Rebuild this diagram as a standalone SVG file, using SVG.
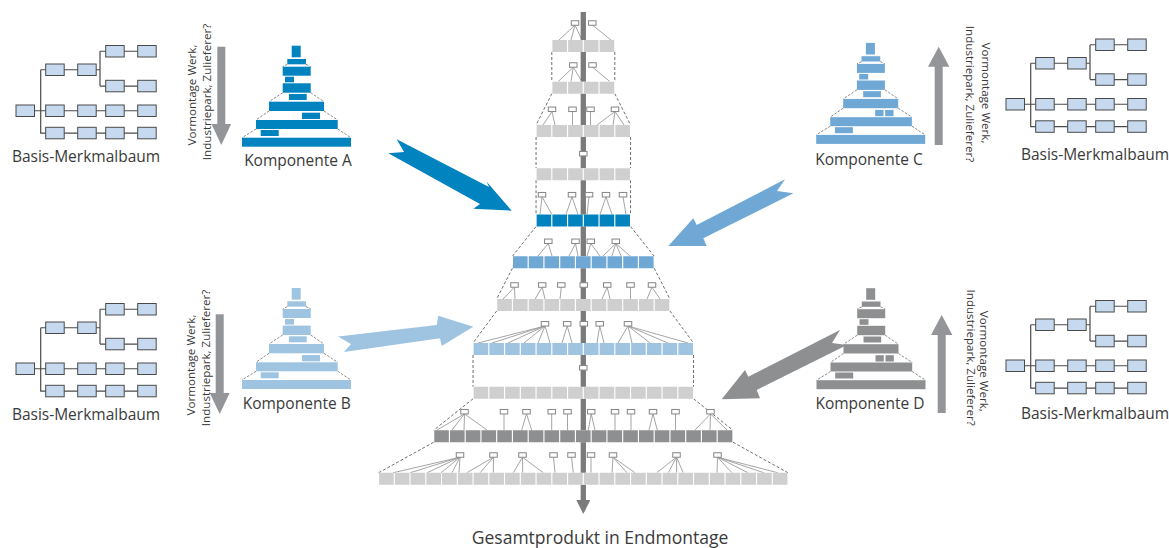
<svg xmlns="http://www.w3.org/2000/svg" width="1169" height="548" viewBox="0 0 1169 548">
<style>
text{font-family:"Open Sans","Noto Sans",sans-serif;fill:#3a3a3a}
.lbl{font-size:15.5px}
.ttl{font-size:17.5px}
.rot{font-size:11.6px}
.tb{fill:#c6d9ee;stroke:#4a4a4a;stroke-width:1}
.tl{fill:none;stroke:#4a4a4a;stroke-width:1.2}
.pd{fill:none;stroke:#7a7a7a;stroke-width:0.9;stroke-dasharray:2.5 1.5}
.sd{fill:none;stroke:#6e6e6e;stroke-width:1;stroke-dasharray:3 2}
.cn{fill:none;stroke:#9b9b9b;stroke-width:0.9}
.nd{fill:#fff;stroke:#858585;stroke-width:1}
.row{fill:none;stroke-width:12;stroke-dasharray:14.6 1.15}
.bg{fill:#fff}
.lg{stroke:#cfcfd0}
.deep{stroke:#0083bf}
.mid{stroke:#6fa8d4}
.lite{stroke:#9fc4e2}
.dg{stroke:#8e8f91}
.side{fill:#939598}
</style>
<defs>
<g id="tree">
<path class="tl" d="M18.5,5.75 H121.7 M24.7,-35.25 V28.05 H121.7 M24.7,-35.25 H84 M84,-53.75 V-18.95 M84,-53.75 H121.7 M84,-18.95 H121.7"/>
<rect class="tb" x="0" y="0" width="18.5" height="11.5"/>
<rect class="tb" x="29.7" y="-41" width="18.5" height="11.5"/>
<rect class="tb" x="61.7" y="-41" width="18.5" height="11.5"/>
<rect class="tb" x="89.7" y="-59.5" width="18.5" height="11.5"/>
<rect class="tb" x="121.7" y="-59.5" width="18.5" height="11.5"/>
<rect class="tb" x="89.7" y="-24.7" width="18.5" height="11.5"/>
<rect class="tb" x="121.7" y="-24.7" width="18.5" height="11.5"/>
<rect class="tb" x="29.7" y="0" width="18.5" height="11.5"/>
<rect class="tb" x="61.7" y="0" width="18.5" height="11.5"/>
<rect class="tb" x="89.7" y="0" width="18.5" height="11.5"/>
<rect class="tb" x="121.7" y="0" width="18.5" height="11.5"/>
<rect class="tb" x="29.7" y="22.3" width="18.5" height="11.5"/>
<rect class="tb" x="61.7" y="22.3" width="18.5" height="11.5"/>
<rect class="tb" x="89.7" y="22.3" width="18.5" height="11.5"/>
<rect class="tb" x="121.7" y="22.3" width="18.5" height="11.5"/>
</g>
<g id="pyr">
<path class="pd" d="M287.3,64.3 L282.7,66.7 M306,64.3 L310.7,66.7 M282.7,92.7 L269,101.7 M310.7,92.7 L324,101.7 M269,111 L256,120 M324,111 L337.7,120 M256,129 L242,137.7 M337.7,129 L351,137.7"/>
<rect x="291.7" y="45.7" width="9" height="11.6"/>
<rect x="287.3" y="59" width="18.7" height="5.3"/>
<rect x="282.7" y="66.7" width="28" height="9"/>
<rect x="285" y="76.7" width="9" height="5.6"/>
<rect x="282.7" y="83.3" width="28" height="9.4"/>
<rect x="289" y="94" width="17.7" height="6"/>
<rect x="269" y="101.7" width="55" height="9.3"/>
<rect x="256" y="120" width="81.7" height="9"/>
<rect x="260.7" y="130" width="18" height="6"/>
<rect x="242" y="137.7" width="109" height="9"/>
</g>
</defs>

<g id="baum-oben-links" transform="translate(16,105)"><use href="#tree"/></g>
<g id="baum-oben-rechts" transform="translate(1006,98.5)"><use href="#tree"/></g>
<g id="baum-unten-links" transform="translate(16,363)"><use href="#tree"/></g>
<g id="baum-unten-rechts" transform="translate(1006,360)"><use href="#tree"/></g>
<g id="baum-labels">
<text class="lbl" x="86" y="162" text-anchor="middle">Basis-Merkmalbaum</text>
<text class="lbl" x="1095" y="160" text-anchor="middle">Basis-Merkmalbaum</text>
<text class="lbl" x="86" y="420" text-anchor="middle">Basis-Merkmalbaum</text>
<text class="lbl" x="1095" y="419" text-anchor="middle">Basis-Merkmalbaum</text>
</g>

<g id="pfeil-oben-links">
<rect class="side" x="217.3" y="46.7" width="8" height="78"/>
<polygon class="side" points="211.5,124 231.1,124 221.3,145"/>
<text class="rot" transform="translate(195.5,95) rotate(-90)" text-anchor="middle">Vormontage Werk,</text>
<text class="rot" transform="translate(210.5,92) rotate(-90)" text-anchor="middle">Industriepark, Zulieferer?</text>
</g>
<g id="pfeil-unten-links">
<rect class="side" x="215.7" y="314.3" width="8" height="79"/>
<polygon class="side" points="209.7,393 229.7,393 219.7,414"/>
<text class="rot" transform="translate(195,365) rotate(-90)" text-anchor="middle">Vormontage Werk,</text>
<text class="rot" transform="translate(209.5,358) rotate(-90)" text-anchor="middle">Industriepark, Zulieferer?</text>
</g>
<g id="pfeil-oben-rechts">
<rect class="side" x="934.7" y="66" width="8" height="79"/>
<polygon class="side" points="928,66.7 949.4,66.7 938.7,46.7"/>
<text class="rot" transform="translate(981.7,93) rotate(90)" text-anchor="middle">Vormontage Werk,</text>
<text class="rot" transform="translate(966,94) rotate(90)" text-anchor="middle">Industriepark, Zulieferer?</text>
</g>
<g id="pfeil-unten-rechts">
<rect class="side" x="937.7" y="334" width="8" height="79"/>
<polygon class="side" points="931,335 952.4,335 941.7,315"/>
<text class="rot" transform="translate(980,361.3) rotate(90)" text-anchor="middle">Vormontage Werk,</text>
<text class="rot" transform="translate(966.5,357.7) rotate(90)" text-anchor="middle">Industriepark, Zulieferer?</text>
</g>

<g id="komponente-a">
<g fill="#0083bf"><use href="#pyr"/><rect x="302" y="112.7" width="18" height="6.3"/></g>
<text class="lbl" x="298" y="166" text-anchor="middle">Komponente A</text>
</g>
<g id="komponente-b">
<g fill="#9fc4e2" transform="translate(0,242.3)"><use href="#pyr"/><rect x="302" y="112.7" width="18" height="6.3"/></g>
<text class="lbl" x="296.7" y="409" text-anchor="middle">Komponente B</text>
</g>
<g id="komponente-c">
<g fill="#6fa8d4" transform="translate(574.2,-2.8)"><use href="#pyr"/><rect x="301" y="112.7" width="8.3" height="6.3"/><rect x="311" y="112.7" width="8.3" height="6.3"/></g>
<text class="lbl" x="869" y="165" text-anchor="middle">Komponente C</text>
</g>
<g id="komponente-d">
<g fill="#8e8f91" transform="translate(574.5,242.5)"><use href="#pyr"/><rect x="301" y="112.7" width="8.3" height="6.3"/><rect x="311" y="112.7" width="8.3" height="6.3"/></g>
<text class="lbl" x="870" y="409" text-anchor="middle">Komponente D</text>
</g>

<g id="gesamtprodukt">
<path class="sd" d="M551.8,52 V81.7 M614.8,52 V81.7 M551.8,93.7 L536.05,125 M614.8,93.7 L630.55,125 M536.05,137 V168.2 M630.55,137 V168.2 M536.05,180.2 V214.5 M630.55,180.2 V214.5 M536.05,226.5 L512.43,256.2 M630.55,226.5 L654.18,256.2 M512.43,268.2 L496.68,299 M654.18,268.2 L669.93,299 M496.68,311 L473.05,343 M669.93,311 L693.55,343 M473.05,355 V386.8 M693.55,355 V386.8 M473.05,398.8 L433.68,430.2 M693.55,398.8 L732.93,430.2 M433.68,442.2 L378.55,472.8 M732.93,442.2 L788.05,472.8"/>
<path class="cn" d="M575,25 L559,40 M575,25 L571,40 M575,25 L582,40 M592.3,25 L611,40
M573.3,67.2 L558,81.7 M573.3,67.2 L571,81.7 M573.3,67.2 L582,81.7 M592.5,67.2 L610,81.7
M552,111.5 L543,125 M552,111.5 L555,125 M572.5,111.5 V125 M590.5,111.5 V125 M615,111.5 L597,125 M615,111.5 L613,125 M615,111.5 L624,125
M542,196.9 L540,214.5 M542,196.9 L552,214.5 M572,196.9 L566,214.5 M572,196.9 L578,214.5 M589,196.9 L587,214.5 M606,196.9 L600,214.5 M606,196.9 L612,214.5 M623,196.9 L626,214.5
M548.3,243.5 L538,256 M548.3,243.5 L552,256 M575.5,243.5 L569,256 M575.5,243.5 L578,256 M590.8,243.5 L587,256 M590.8,243.5 L600,256 M615.8,243.5 L603,256 M615.8,243.5 L612,256 M615.8,243.5 L621,256 M615.8,243.5 L630,256
M514.5,287.2 L503,299 M514.5,287.2 L515,299 M542.2,287.2 L535,299 M542.2,287.2 L545,299 M561.3,287.2 L560,299 M583.8,287.2 V299 M607.2,287.2 L602,299 M607.2,287.2 L610,299 M630.5,287.2 V299 M652,287.2 L647,299 M652,287.2 L660,299
M545,326 L478,343 M545,326 L492,343 M545,326 L508,343 M545,326 L524,343 M545,326 L538,343 M545,326 L550,343 M567.2,326 L562,343 M567.2,326 L572,343 M599.7,326 L597,343 M599.7,326 L604,343 M628,326 L618,343 M628,326 L632,343 M628,326 L650,343 M628,326 L668,343 M628,326 L688,343
M464.5,413.9 L437,430 M464.5,413.9 L452,430 M464.5,413.9 L464,430 M464.5,413.9 L487,430 M504,413.9 V430 M526.5,413.9 L521.7,430 M526.5,413.9 L531.7,430 M551.7,413.9 V430 M567.5,413.9 V430 M591.2,413.9 L588.3,430 M591.2,413.9 L595,430 M615,413.9 V430 M631,413.9 V430 M653,413.9 L649,430 M653,413.9 L657.3,430 M675.5,413.9 V430 M710.5,413.9 L695,430 M710.5,413.9 L710,430 M710.5,413.9 L727,430
M460,457.2 L393,472.8 M460,457.2 L410,472.8 M460,457.2 L427,472.8 M460,457.2 L441,472.8 M460,457.2 L452,472.8 M460,457.2 L459,472.8 M493.5,457.2 L466.7,472.8 M493.5,457.2 L480,472.8 M493.5,457.2 L493.3,472.8 M522.5,457.2 L513.3,472.8 M522.5,457.2 L522.7,472.8 M522.5,457.2 L543.3,472.8 M553.5,457.2 L555,472.8 M571.5,457.2 L573.3,472.8 M591,457.2 V472.8 M613,457.2 L612,472.8 M613,457.2 L627,472.8 M613,457.2 L635,472.8 M676.5,457.2 L656.7,472.8 M676.5,457.2 L668.3,472.8 M676.5,457.2 L676.7,472.8 M676.5,457.2 L683.3,472.8 M717.5,457.2 L717,472.8 M717.5,457.2 L732,472.8 M717.5,457.2 L748,472.8 M717.5,457.2 L764,472.8 M717.5,457.2 L778,472.8"/>
<rect x="580.65" y="12" width="5.3" height="489" fill="#7b7b7c"/>
<polygon points="576.3,500 590.3,500 583.3,514" fill="#7b7b7c"/>
<g id="ebene-1"><rect class="bg" x="551.8" y="40" width="63" height="12"/><line class="row lg" x1="552.375" y1="46" x2="614.225" y2="46"/></g>
<g id="ebene-2"><rect class="bg" x="551.8" y="81.7" width="63" height="12"/><line class="row lg" x1="552.375" y1="87.7" x2="614.225" y2="87.7"/></g>
<g id="ebene-3"><rect class="bg" x="536.05" y="125" width="94.5" height="12"/><line class="row lg" x1="536.625" y1="131" x2="629.975" y2="131"/></g>
<g id="ebene-4"><rect class="bg" x="536.05" y="168.2" width="94.5" height="12"/><line class="row lg" x1="536.625" y1="174.2" x2="629.975" y2="174.2"/></g>
<g id="ebene-5"><rect class="bg" x="536.05" y="214.5" width="94.5" height="12"/><line class="row deep" x1="536.625" y1="220.5" x2="629.975" y2="220.5"/></g>
<g id="ebene-6"><rect class="bg" x="512.43" y="256.2" width="141.75" height="12"/><line class="row mid" x1="513.005" y1="262.2" x2="653.605" y2="262.2"/></g>
<g id="ebene-7"><rect class="bg" x="496.68" y="299" width="173.25" height="12"/><line class="row lg" x1="497.255" y1="305" x2="669.355" y2="305"/></g>
<g id="ebene-8"><rect class="bg" x="473.05" y="343" width="220.5" height="12"/><line class="row lite" x1="473.625" y1="349" x2="692.975" y2="349"/></g>
<g id="ebene-9"><rect class="bg" x="473.05" y="386.8" width="220.5" height="12"/><line class="row lg" x1="473.625" y1="392.8" x2="692.975" y2="392.8"/></g>
<g id="ebene-10"><rect class="bg" x="433.68" y="430.2" width="299.25" height="12"/><line class="row dg" x1="434.255" y1="436.2" x2="732.355" y2="436.2"/></g>
<g id="ebene-11"><rect class="bg" x="378.55" y="472.8" width="409.5" height="12"/><line class="row lg" x1="379.125" y1="478.8" x2="787.475" y2="478.8"/></g>
<g id="knoten">
<rect class="nd" x="571.25" y="20.75" width="7.5" height="4.5"/><rect class="nd" x="588.55" y="20.75" width="7.5" height="4.5"/>
<rect class="nd" x="569.55" y="62.75" width="7.5" height="4.5"/><rect class="nd" x="588.75" y="62.75" width="7.5" height="4.5"/>
<rect class="nd" x="548.25" y="107.05" width="7.5" height="4.5"/><rect class="nd" x="568.75" y="107.05" width="7.5" height="4.5"/><rect class="nd" x="586.75" y="107.05" width="7.5" height="4.5"/><rect class="nd" x="611.25" y="107.05" width="7.5" height="4.5"/>
<rect class="nd" x="579.55" y="151.45" width="7.5" height="4.5"/>
<rect class="nd" x="538.25" y="192.45" width="7.5" height="4.5"/><rect class="nd" x="568.25" y="192.45" width="7.5" height="4.5"/><rect class="nd" x="585.25" y="192.45" width="7.5" height="4.5"/><rect class="nd" x="602.25" y="192.45" width="7.5" height="4.5"/><rect class="nd" x="619.25" y="192.45" width="7.5" height="4.5"/>
<rect class="nd" x="544.55" y="239.05" width="7.5" height="4.5"/><rect class="nd" x="571.75" y="239.05" width="7.5" height="4.5"/><rect class="nd" x="587.05" y="239.05" width="7.5" height="4.5"/><rect class="nd" x="612.05" y="239.05" width="7.5" height="4.5"/>
<rect class="nd" x="510.75" y="282.75" width="7.5" height="4.5"/><rect class="nd" x="538.45" y="282.75" width="7.5" height="4.5"/><rect class="nd" x="557.55" y="282.75" width="7.5" height="4.5"/><rect class="nd" x="580.05" y="282.75" width="7.5" height="4.5"/><rect class="nd" x="603.45" y="282.75" width="7.5" height="4.5"/><rect class="nd" x="626.75" y="282.75" width="7.5" height="4.5"/><rect class="nd" x="648.25" y="282.75" width="7.5" height="4.5"/>
<rect class="nd" x="541.25" y="321.55" width="7.5" height="4.5"/><rect class="nd" x="563.45" y="321.55" width="7.5" height="4.5"/><rect class="nd" x="580.05" y="321.55" width="7.5" height="4.5"/><rect class="nd" x="595.95" y="321.55" width="7.5" height="4.5"/><rect class="nd" x="624.25" y="321.55" width="7.5" height="4.5"/>
<rect class="nd" x="579.55" y="365.55" width="7.5" height="4.5"/>
<rect class="nd" x="460.75" y="409.45" width="7.5" height="4.5"/><rect class="nd" x="500.25" y="409.45" width="7.5" height="4.5"/><rect class="nd" x="522.75" y="409.45" width="7.5" height="4.5"/><rect class="nd" x="547.95" y="409.45" width="7.5" height="4.5"/><rect class="nd" x="563.75" y="409.45" width="7.5" height="4.5"/><rect class="nd" x="587.45" y="409.45" width="7.5" height="4.5"/><rect class="nd" x="611.25" y="409.45" width="7.5" height="4.5"/><rect class="nd" x="627.25" y="409.45" width="7.5" height="4.5"/><rect class="nd" x="649.25" y="409.45" width="7.5" height="4.5"/><rect class="nd" x="671.75" y="409.45" width="7.5" height="4.5"/><rect class="nd" x="706.75" y="409.45" width="7.5" height="4.5"/>
<rect class="nd" x="456.25" y="452.75" width="7.5" height="4.5"/><rect class="nd" x="489.75" y="452.75" width="7.5" height="4.5"/><rect class="nd" x="518.75" y="452.75" width="7.5" height="4.5"/><rect class="nd" x="549.75" y="452.75" width="7.5" height="4.5"/><rect class="nd" x="567.75" y="452.75" width="7.5" height="4.5"/><rect class="nd" x="587.25" y="452.75" width="7.5" height="4.5"/><rect class="nd" x="609.25" y="452.75" width="7.5" height="4.5"/><rect class="nd" x="672.75" y="452.75" width="7.5" height="4.5"/><rect class="nd" x="713.75" y="452.75" width="7.5" height="4.5"/>
</g>
<text class="ttl" x="600" y="544" text-anchor="middle">Gesamtprodukt in Endmontage</text>
</g>

<g id="verbindungen">
<polygon fill="#0083bf" points="396.7,139.3 489,187 486.7,181.7 511.7,210.7 473.3,208.7 480,204 388.3,153.3 404,152"/>
<polygon fill="#9fc4e2" points="338,336.5 436.7,325 438.3,315.7 473.3,326.7 441.7,346 440,338.3 344,352 351,344"/>
<polygon fill="#6fa8d4" points="785,179.3 696.7,225 693.3,218.3 668.3,246 706.7,246 703.3,238.3 793.3,193.3 777,191"/>
<polygon fill="#8e8f91" points="840,330 748.3,376.7 745,370 721.7,399.3 760,398.3 756.7,390 847,345 832,343"/>
</g>
</svg>
